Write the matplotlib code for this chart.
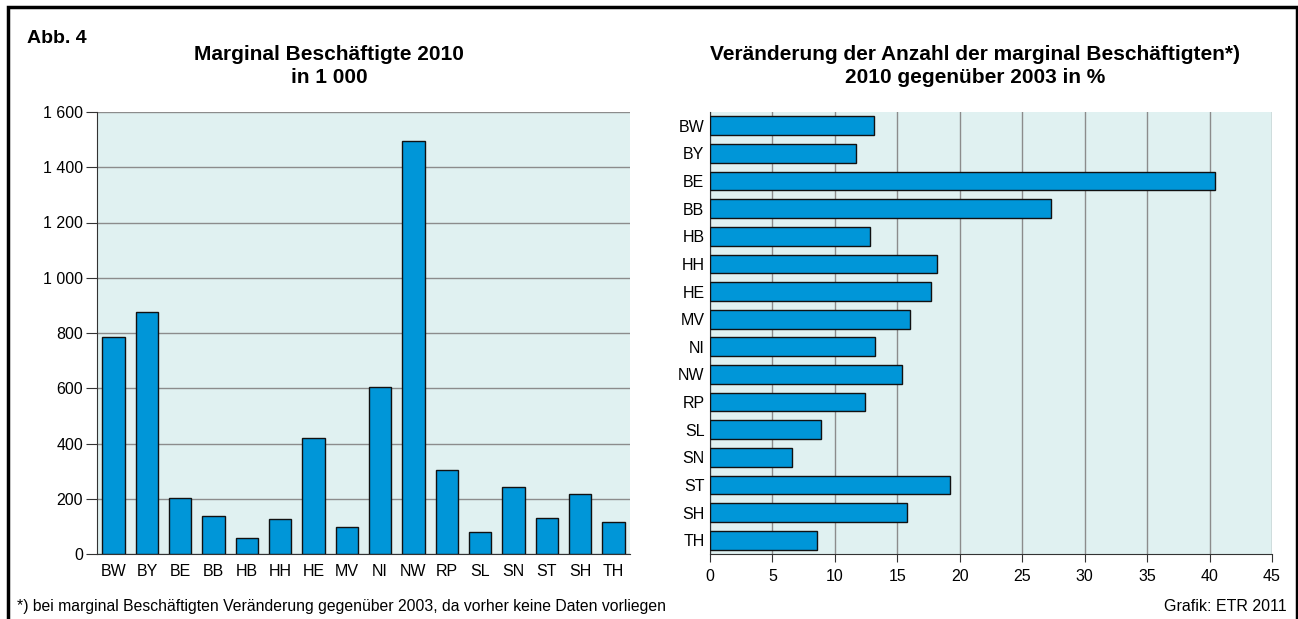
import matplotlib
matplotlib.use('Agg')
import matplotlib.pyplot as plt
from matplotlib.ticker import FuncFormatter
from matplotlib.patches import Rectangle

plt.rcParams['font.family'] = ['Liberation Sans', 'DejaVu Sans']

laender = ['BW', 'BY', 'BE', 'BB', 'HB', 'HH', 'HE', 'MV',
           'NI', 'NW', 'RP', 'SL', 'SN', 'ST', 'SH', 'TH']
# Marginal Beschäftigte 2010 in 1 000
beschaeftigte = [787, 877, 201, 139, 58, 125, 420, 96,
                 606, 1495, 303, 81, 241, 129, 216, 116]
# Veränderung 2010 gegenüber 2003 in %
veraenderung = [13.1, 11.7, 40.4, 27.3, 12.8, 18.2, 17.7, 16.0,
                13.2, 15.4, 12.4, 8.9, 6.6, 19.2, 15.8, 8.6]

bar_farbe = '#0096d8'
bg_farbe = '#e0f1f1'
grid_farbe = '#8c8c8c'

W, H = 1298, 619
fig = plt.figure(figsize=(W / 100, H / 100), dpi=100)


def fx(px):
    return px / W


def fy(py):
    return 1 - py / H


# Rahmen
fig.patches.append(Rectangle((fx(8), -0.02), fx(1289), fy(7) + 0.02,
                             transform=fig.transFigure, fill=False,
                             edgecolor='black', linewidth=2.5))

################ linke Grafik ################
ax1 = fig.add_axes([fx(97), fy(554), fx(533), 442 / H])
ax1.set_facecolor(bg_farbe)
ax1.bar(range(len(laender)), beschaeftigte, width=0.67, color=bar_farbe,
        edgecolor='#111111', linewidth=1, zorder=3)
ax1.set_xlim(-0.5, len(laender) - 0.5)
ax1.set_ylim(0, 1600)
ax1.set_yticks(range(0, 1601, 200))
ax1.yaxis.set_major_formatter(FuncFormatter(lambda v, p: f'{int(v):,}'.replace(',', ' ')))
ax1.set_xticks(range(len(laender)))
ax1.set_xticklabels(laender)
ax1.grid(axis='y', color=grid_farbe, linewidth=1, zorder=1)
for s in ['top', 'right']:
    ax1.spines[s].set_visible(False)
for s in ['left', 'bottom']:
    ax1.spines[s].set_color('#333333')
ax1.tick_params(axis='y', length=8, color='#333333', labelsize=11.5, pad=2)
ax1.tick_params(axis='x', length=0, labelsize=11.5, pad=7)

################ rechte Grafik ################
ax2 = fig.add_axes([fx(710), fy(554), fx(562), 442 / H])
ax2.set_facecolor(bg_farbe)
ax2.barh(range(len(laender)), veraenderung, height=0.68, color=bar_farbe,
         edgecolor='#111111', linewidth=1, zorder=3)
ax2.set_ylim(len(laender) - 0.5, -0.5)
ax2.set_xlim(0, 45)
ax2.set_xticks(range(0, 46, 5))
ax2.set_yticks(range(len(laender)))
ax2.set_yticklabels(laender)
ax2.grid(axis='x', color=grid_farbe, linewidth=1, zorder=1)
for s in ['top', 'right']:
    ax2.spines[s].set_visible(False)
for s in ['left', 'bottom']:
    ax2.spines[s].set_color('#333333')
ax2.tick_params(axis='x', length=6, color='#333333', labelsize=11.5, pad=5)
ax2.tick_params(axis='y', length=0, labelsize=11.5, pad=4)

# Titel
titel_stil = dict(fontsize=15, fontweight='bold', ha='center', va='baseline')
fig.text(fx(329), fy(59.5), 'Marginal Beschäftigte 2010', **titel_stil)
fig.text(fx(329), fy(83), 'in 1 000', **titel_stil)
fig.text(fx(975), fy(59.5), 'Veränderung der Anzahl der marginal Beschäftigten*)', **titel_stil)
fig.text(fx(975), fy(83), '2010 gegenüber 2003 in %', **titel_stil)

# Texte
fig.text(fx(27), fy(43), 'Abb. 4', fontsize=14, fontweight='bold', va='baseline')
fig.text(fx(17), fy(611),
         '*) bei marginal Beschäftigten Veränderung gegenüber 2003, da vorher keine Daten vorliegen',
         fontsize=11.3, va='baseline')
fig.text(fx(1287), fy(611), 'Grafik: ETR 2011', fontsize=11.5, va='baseline', ha='right')

fig.savefig('out.png', dpi=100)
